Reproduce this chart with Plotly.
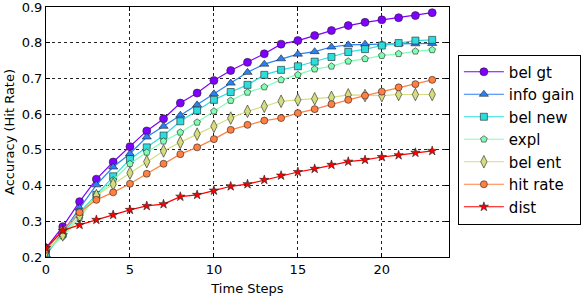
import plotly.graph_objects as go

time_steps = list(range(24))

bel_gt = [0.225, 0.285, 0.355, 0.418, 0.466, 0.509, 0.553, 0.587, 0.631, 0.659, 0.694, 0.722,
          0.745, 0.769, 0.796, 0.806, 0.820, 0.834, 0.848, 0.857, 0.864, 0.870, 0.876, 0.884]
info_gain = [0.205, 0.270, 0.337, 0.402, 0.452, 0.489, 0.536, 0.566, 0.597, 0.626, 0.657, 0.687,
             0.717, 0.740, 0.755, 0.768, 0.775, 0.788, 0.794, 0.796, 0.796, 0.797, 0.797, 0.798]
bel_new = [0.210, 0.265, 0.325, 0.374, 0.426, 0.474, 0.507, 0.540, 0.580, 0.610, 0.640, 0.662,
           0.682, 0.710, 0.724, 0.734, 0.747, 0.760, 0.774, 0.782, 0.792, 0.799, 0.806, 0.808]
expl = [0.215, 0.258, 0.309, 0.372, 0.415, 0.461, 0.493, 0.524, 0.549, 0.577, 0.608, 0.638,
        0.661, 0.676, 0.696, 0.710, 0.726, 0.734, 0.748, 0.755, 0.764, 0.769, 0.776, 0.780]
bel_ent = [0.215, 0.262, 0.315, 0.372, 0.404, 0.435, 0.467, 0.497, 0.521, 0.544, 0.566, 0.589,
           0.608, 0.622, 0.636, 0.640, 0.643, 0.647, 0.654, 0.652, 0.652, 0.655, 0.655, 0.655]
hit_rate = [0.220, 0.276, 0.325, 0.360, 0.381, 0.405, 0.433, 0.461, 0.488, 0.507, 0.530, 0.556,
            0.570, 0.582, 0.589, 0.603, 0.614, 0.628, 0.640, 0.652, 0.663, 0.675, 0.684, 0.696]
dist = [0.225, 0.274, 0.290, 0.304, 0.318, 0.332, 0.343, 0.348, 0.369, 0.374, 0.386, 0.398,
        0.404, 0.416, 0.428, 0.438, 0.447, 0.458, 0.467, 0.472, 0.480, 0.485, 0.492, 0.497]

series_names = ["bel gt", "info gain", "bel new", "expl", "bel ent", "hit rate", "dist"]
series_values = [bel_gt, info_gain, bel_new, expl, bel_ent, hit_rate, dist]
colors = ["#8000ff", "#2b80f6", "#2bdddd", "#80ffb4", "#d5dd80", "#ff8042", "#ff0000"]
symbols = ["circle", "triangle-up", "square", "pentagon", "diamond-tall", "circle", "star"]
sizes = [8, 8, 7, 7, 9, 7, 7]

fig = go.Figure()
for i, (name, vals) in enumerate(zip(series_names, series_values)):
    fig.add_trace(go.Scatter(
        x=time_steps, y=vals, name=name, mode="lines+markers",
        legendgroup=name,
        line=dict(color=colors[i], width=1.2),
        marker=dict(symbol=symbols[i], size=sizes[i], color=colors[i],
                    line=dict(color="#222222", width=0.6)),
    ))

axis_common = dict(
    showline=True, linecolor="black", linewidth=1, mirror="allticks",
    ticks="inside", ticklen=4, tickcolor="black",
    showgrid=True, gridcolor="#222222", griddash="dot", gridwidth=0.8,
    zeroline=False, automargin=False, ticklabeloverflow="allow",
    tickfont=dict(family="DejaVu Sans", size=13, color="black"),
)

fig.update_xaxes(range=[0, 24], tickvals=[0, 5, 10, 15, 20],
                 title=dict(text="Time Steps", font=dict(family="DejaVu Sans", size=13, color="black"),
                            standoff=8),
                 **axis_common)
fig.update_yaxes(range=[0.2, 0.9], tickvals=[0.2, 0.3, 0.4, 0.5, 0.6, 0.7, 0.8, 0.9],
                 tickformat=".1f",
                 title=dict(text="Accuracy (Hit Rate)", font=dict(family="DejaVu Sans", size=13, color="black"),
                            standoff=4),
                 **axis_common)

fig.update_layout(
    width=588, height=298,
    margin=dict(l=46, r=134, t=7, b=41),
    paper_bgcolor="white", plot_bgcolor="white",
    font=dict(family="DejaVu Sans", color="black"),
    legend=dict(x=1.022, y=0.81, xanchor="left", yanchor="top",
                bgcolor="white", bordercolor="black", borderwidth=1,
                font=dict(family="DejaVu Sans", size=15, color="black"),
                tracegroupgap=0, itemwidth=40),
)

fig.write_html("out.html", config={"displayModeBar": False},
               post_script="document.body.style.margin='0';")
